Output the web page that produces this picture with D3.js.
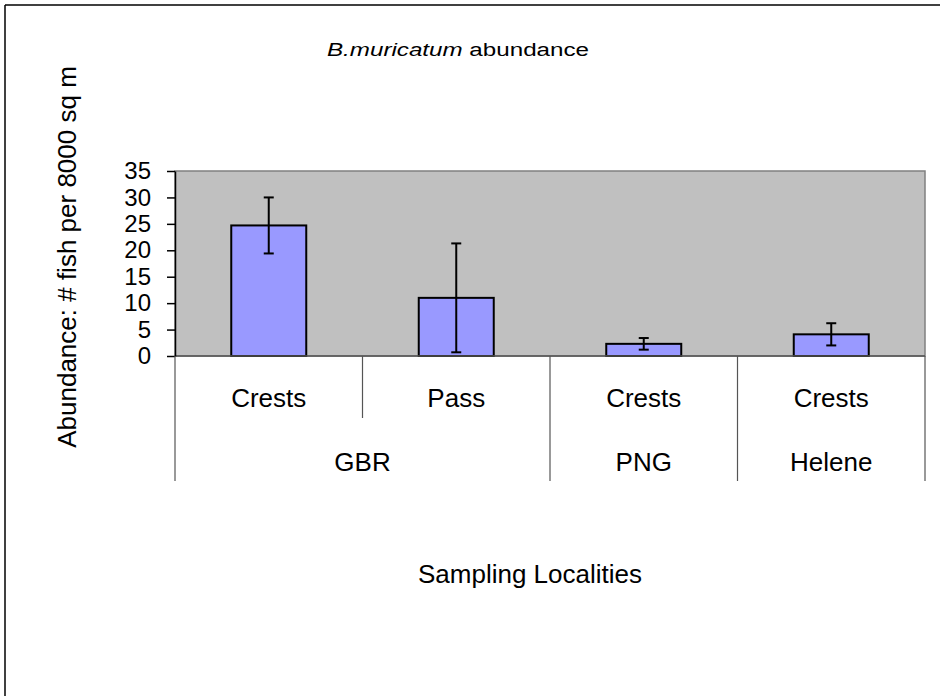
<!DOCTYPE html>
<html>
<head>
<meta charset="utf-8">
<script src="https://cdn.jsdelivr.net/npm/d3@7"></script>
<style>
  html, body { margin: 0; padding: 0; background: #fff; }
  svg { display: block; }
  text { font-family: Arial, "Liberation Sans", sans-serif; fill: #000; }
</style>
</head>
<body>
<svg id="chart" width="940" height="696"></svg>
<script>
// ---- data ----
const sites = ["Crests", "Pass", "Crests", "Crests"];
const regions = ["GBR", "GBR", "PNG", "Helene"];
const abundance = [24.7, 11.0, 2.3, 4.1];
const errors = [5.3, 10.3, 1.1, 2.1];
const yTicks = [0, 5, 10, 15, 20, 25, 30, 35];
const titleItalic = "B.muricatum";
const titleRest = " abundance";
const yTitle = "Abundance: # fish per 8000 sq m";
const xTitle = "Sampling Localities";

(function () {
const svg = d3.select("#chart");

// outer frame (top and left lines)
svg.append("line").attr("x1", 5).attr("y1", 5).attr("x2", 940).attr("y2", 5)
  .attr("stroke", "#000").attr("stroke-width", 1.5);
svg.append("line").attr("x1", 5).attr("y1", 5).attr("x2", 5).attr("y2", 696)
  .attr("stroke", "#000").attr("stroke-width", 1.5);

const pLeft = 175, pRight = 925, pTop = 171, pBottom = 356;
const idx = d3.range(abundance.length);

const x = d3.scaleBand().domain(idx).range([pLeft, pRight])
  .paddingInner(0.6).paddingOuter(0.3);
const step = x.step();
const y = d3.scaleLinear().domain([0, 35]).range([pBottom, pTop]);

// plot area
svg.append("rect").attr("x", pLeft).attr("y", pTop)
  .attr("width", pRight - pLeft).attr("height", pBottom - pTop)
  .attr("fill", "#C0C0C0").attr("stroke", "#808080").attr("stroke-width", 1.5);

// bars
svg.append("g").selectAll("rect").data(idx).join("rect")
  .attr("x", i => x(i))
  .attr("y", i => y(abundance[i]))
  .attr("width", x.bandwidth())
  .attr("height", i => y(0) - y(abundance[i]))
  .attr("fill", "#9999FF")
  .attr("stroke", "#000").attr("stroke-width", 2);

// error bars
const eb = svg.append("g").attr("stroke", "#000").attr("stroke-width", 2);
idx.forEach(i => {
  const cx = x(i) + x.bandwidth() / 2;
  const y1 = y(abundance[i] + errors[i]);
  const y2 = y(Math.max(0, abundance[i] - errors[i]));
  eb.append("line").attr("x1", cx).attr("x2", cx).attr("y1", y1).attr("y2", y2);
  eb.append("line").attr("x1", cx - 5).attr("x2", cx + 5).attr("y1", y1).attr("y2", y1);
  eb.append("line").attr("x1", cx - 5).attr("x2", cx + 5).attr("y1", y2).attr("y2", y2);
});

// zero / category axis line
svg.append("line").attr("x1", pLeft).attr("x2", pRight).attr("y1", y(0)).attr("y2", y(0))
  .attr("stroke", "#555").attr("stroke-width", 1.5);

// y axis
const yAxis = svg.append("g").attr("transform", `translate(${pLeft},0)`)
  .call(d3.axisLeft(y).tickValues(yTicks).tickSize(8).tickPadding(16).tickSizeOuter(0));
yAxis.select(".domain").attr("stroke", "#000").attr("stroke-width", 1.5);
yAxis.selectAll(".tick line").attr("stroke", "#000").attr("stroke-width", 1.5);
yAxis.selectAll(".tick text").attr("font-size", 24).attr("font-family", "Arial, 'Liberation Sans', sans-serif")
  .attr("fill", "#000");

// multi-level category axis
const catG = svg.append("g");
const axisBottom1 = 418, axisBottom2 = 481;
idx.forEach(i => {
  catG.append("text")
    .attr("x", x(i) + x.bandwidth() / 2).attr("y", 407)
    .attr("text-anchor", "middle").attr("font-size", 26)
    .text(sites[i]);
});
const groups = [];
idx.forEach(i => {
  const g = groups.length ? groups[groups.length - 1] : null;
  if (g && g.name === regions[i]) g.end = i;
  else groups.push({ name: regions[i], start: i, end: i });
});
const bandLeft = i => pLeft + i * step;
groups.forEach(g => {
  const x0 = bandLeft(g.start), x1 = bandLeft(g.end + 1);
  catG.append("text")
    .attr("x", (x0 + x1) / 2).attr("y", 471)
    .attr("text-anchor", "middle").attr("font-size", 26)
    .text(g.name);
  for (let k = g.start + 1; k <= g.end; k++) {
    catG.append("line").attr("x1", bandLeft(k)).attr("x2", bandLeft(k))
      .attr("y1", y(0)).attr("y2", axisBottom1)
      .attr("stroke", "#555").attr("stroke-width", 1.2);
  }
});
const bounds = [0].concat(groups.map(g => g.end + 1));
bounds.forEach(b => {
  catG.append("line").attr("x1", bandLeft(b)).attr("x2", bandLeft(b))
    .attr("y1", y(0)).attr("y2", axisBottom2)
    .attr("stroke", "#555").attr("stroke-width", 1.2);
});

// title
const t = svg.append("text").attr("x", 458).attr("y", 56)
  .attr("text-anchor", "middle").attr("font-size", 18)
  .attr("textLength", 262).attr("lengthAdjust", "spacingAndGlyphs");
t.append("tspan").attr("font-style", "italic").text(titleItalic);
t.append("tspan").text(titleRest);

// y title
svg.append("text")
  .attr("transform", "translate(76,257) rotate(-90)")
  .attr("text-anchor", "middle").attr("font-size", 26)
  .text(yTitle);

// x title
svg.append("text").attr("x", 530).attr("y", 583)
  .attr("text-anchor", "middle").attr("font-size", 26)
  .text(xTitle);
})();
</script>
</body>
</html>
